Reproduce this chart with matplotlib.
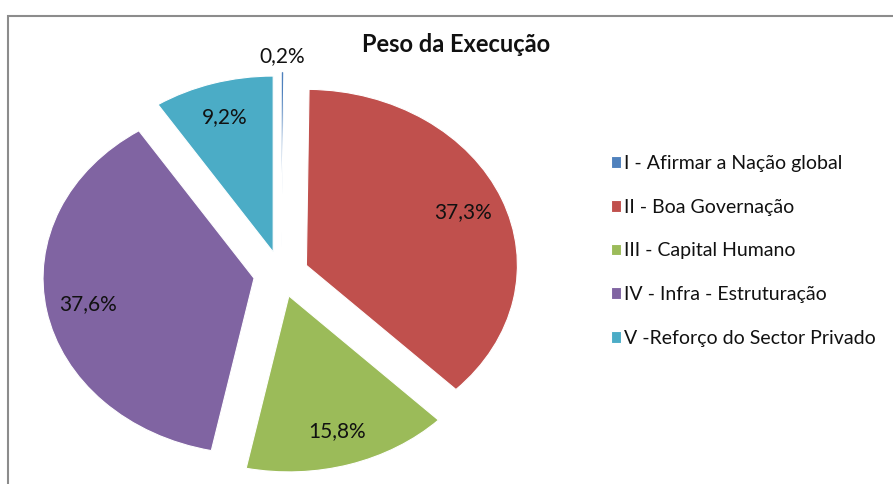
import numpy as np
import matplotlib.pyplot as plt
from matplotlib.patches import Rectangle

# data
categories = [
    "I - Afirmar a Nação global",
    "II - Boa Governação",
    "III - Capital Humano",
    "IV - Infra - Estruturação",
    "V -Reforço do Sector Privado",
]
shares = [0.2, 37.3, 15.8, 37.6, 9.2]
colors = ["#4F81BD", "#C0504D", "#9BBB59", "#8064A2", "#4BACC6"]
title = "Peso da Execução"

plt.rcParams['font.family'] = ['Lato', 'DejaVu Sans']

W, H = 893, 484
fig = plt.figure(figsize=(W / 100, H / 100), dpi=100)

# pie is stretched horizontally in the original (rx > ry)
cx, cy = 281, 274          # pie centre in pixels from top-left
rx, ry = 211, 176          # radius in pixels
lim = 1.3
ax = fig.add_axes([(cx - lim * rx) / W, (H - cy - lim * ry) / H,
                   2 * lim * rx / W, 2 * lim * ry / H])

explode = [0.15, 0.13, 0.13, 0.13, 0.13]
wedges, texts, autotexts = ax.pie(
    shares, colors=colors, explode=explode, startangle=90, counterclock=False,
    autopct=lambda p: f"{p:.1f}%".replace(".", ","), pctdistance=0.8,
    wedgeprops=dict(edgecolor="white", linewidth=0.8),
    textprops=dict(fontsize=15, color="#111111"),
)
ax.set_aspect("auto")
ax.set_xlim(-lim, lim)
ax.set_ylim(-lim, lim)
ax.axis("off")

# the tiny slice carries its label outside
w0 = wedges[0]
mid = np.deg2rad((w0.theta1 + w0.theta2) / 2)
autotexts[0].set_position((w0.center[0] + 1.09 * np.cos(mid),
                           w0.center[1] + 1.09 * np.sin(mid)))

fig.text(456 / W, 1 - 45 / H, title, ha="center", va="center",
         fontsize=17, fontweight="bold", color="#111111")

leg = fig.legend(wedges, categories, loc="upper left",
                 bbox_to_anchor=(601 / W, 1 - 145 / H), frameon=False,
                 fontsize=14, labelspacing=1.38, handlelength=0.55,
                 handleheight=0.55, handletextpad=0.15, borderpad=0)
for t in leg.get_texts():
    t.set_color("#111111")

# chart border (runs off the right and bottom of the crop)
fig.add_artist(Rectangle((8 / W, -0.05), 1.1, 1 - 16 / H + 0.05,
                         transform=fig.transFigure, fill=False,
                         edgecolor="#8c8c8c", linewidth=1.5))

fig.savefig("out.png", dpi=100)
